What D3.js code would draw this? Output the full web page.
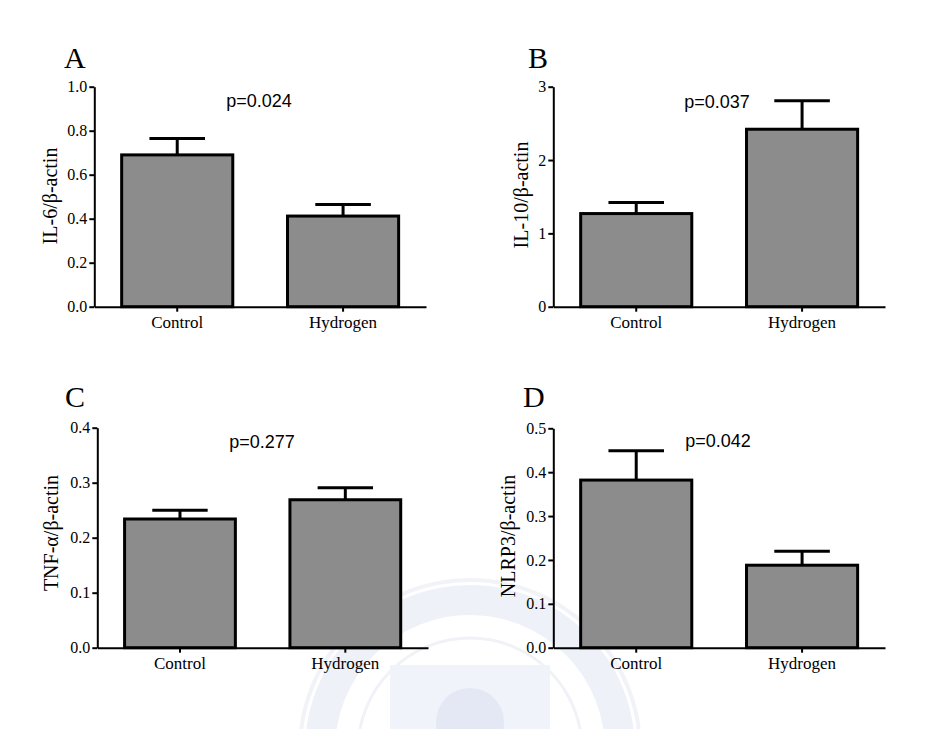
<html>
    <head>
        <title>Cytokine expression</title>
        <script src="https://d3js.org/d3.v7.min.js"></script>
        <style>
        body { margin: 0; background: white; }
        .axis path, .axis line { stroke: black; stroke-width: 2; }
        </style>
    </head>
    <body>
        <svg id="chart" width="941" height="729"></svg>
        <script>
            // data
            const groups = ["Control", "Hydrogen"];

            const il6Mean = [0.690, 0.412];
            const il6Sem = [0.074, 0.053];
            const il10Mean = [1.27, 2.42];
            const il10Sem = [0.15, 0.39];
            const tnfMean = [0.234, 0.269];
            const tnfSem = [0.016, 0.022];
            const nlrpMean = [0.382, 0.188];
            const nlrpSem = [0.067, 0.032];

            const il6Ticks = [0.0, 0.2, 0.4, 0.6, 0.8, 1.0];
            const il10Ticks = [0, 1, 2, 3];
            const tnfTicks = [0.0, 0.1, 0.2, 0.3, 0.4];
            const nlrpTicks = [0.0, 0.1, 0.2, 0.3, 0.4, 0.5];

            const panelLetters = ["A", "B", "C", "D"];
            const yLabels = ["IL-6/\u03b2-actin", "IL-10/\u03b2-actin", "TNF-\u03b1/\u03b2-actin", "NLRP3/\u03b2-actin"];
            const pLabels = ["p=0.024", "p=0.037", "p=0.277", "p=0.042"];

            const serif = "'Liberation Serif', 'Times New Roman', serif";

            const svg = d3.select("#chart");

            // very faint seal watermark behind the bottom panels
            const seal = svg.append("g").attr("transform", "translate(470,750)");
            seal.append("circle").attr("r", 170).attr("fill", "none").attr("stroke", "#f1f3f9").attr("stroke-width", 4);
            seal.append("circle").attr("r", 150).attr("fill", "none").attr("stroke", "#eef1f8").attr("stroke-width", 30);
            seal.append("circle").attr("r", 112).attr("fill", "none").attr("stroke", "#f0f2f8").attr("stroke-width", 3);
            seal.append("path")
                .attr("d", "M-80,-85 L80,-85 L80,-10 Q80,40 0,60 Q-80,40 -80,-10 Z")
                .attr("fill", "#f0f3fa");
            seal.append("circle").attr("cy", -28).attr("r", 34).attr("fill", "#e3e8f4");

            const panels = [
                {mean: il6Mean, sem: il6Sem, ticks: il6Ticks, fmt: ".1f",
                 left: 94.3, top: 86.7, bottom: 306.7, right: 426, labelX: 57, labelY: 196,
                 letterX: 64, letterY: 68, pX: 259, pY: 107},
                {mean: il10Mean, sem: il10Sem, ticks: il10Ticks, fmt: "d",
                 left: 553.3, top: 86.7, bottom: 306.7, right: 885, labelX: 528, labelY: 195,
                 letterX: 528, letterY: 68, pX: 717, pY: 108},
                {mean: tnfMean, sem: tnfSem, ticks: tnfTicks, fmt: ".1f",
                 left: 97.3, top: 427.7, bottom: 647.7, right: 428, labelX: 58, labelY: 533,
                 letterX: 65, letterY: 407, pX: 262, pY: 448},
                {mean: nlrpMean, sem: nlrpSem, ticks: nlrpTicks, fmt: ".1f",
                 left: 553.3, top: 428.3, bottom: 647.7, right: 885, labelX: 515, labelY: 536,
                 letterX: 523, letterY: 407, pX: 718, pY: 447}
            ];

            panels.forEach((p, i) => {
                const g = svg.append("g");

                const x = d3.scaleBand()
                    .domain(groups)
                    .range([p.left, p.right])
                    .paddingInner(0.33)
                    .paddingOuter(0.165);

                const y = d3.scaleLinear()
                    .domain([p.ticks[0], p.ticks[p.ticks.length - 1]])
                    .range([p.bottom, p.top]);

                const rows = groups.map((k, j) => ({group: k, mean: p.mean[j], sem: p.sem[j]}));

                // error bars (upper only)
                const capHalf = x.bandwidth() / 4;
                g.selectAll("line.err").data(rows).join("line")
                    .attr("class", "err")
                    .attr("x1", d => x(d.group) + x.bandwidth() / 2)
                    .attr("x2", d => x(d.group) + x.bandwidth() / 2)
                    .attr("y1", d => y(d.mean))
                    .attr("y2", d => y(d.mean + d.sem))
                    .attr("stroke", "black").attr("stroke-width", 3);
                g.selectAll("line.cap").data(rows).join("line")
                    .attr("class", "cap")
                    .attr("x1", d => x(d.group) + x.bandwidth() / 2 - capHalf)
                    .attr("x2", d => x(d.group) + x.bandwidth() / 2 + capHalf)
                    .attr("y1", d => y(d.mean + d.sem))
                    .attr("y2", d => y(d.mean + d.sem))
                    .attr("stroke", "black").attr("stroke-width", 3);

                // bars
                g.selectAll("rect.bar").data(rows).join("rect")
                    .attr("class", "bar")
                    .attr("x", d => x(d.group))
                    .attr("y", d => y(d.mean))
                    .attr("width", x.bandwidth())
                    .attr("height", d => y(0) - y(d.mean))
                    .attr("fill", "#8c8c8c")
                    .attr("stroke", "black").attr("stroke-width", 3);

                // axes
                const yAxis = g.append("g")
                    .attr("class", "axis")
                    .attr("transform", `translate(${p.left},0)`)
                    .call(d3.axisLeft(y).tickValues(p.ticks).tickFormat(d3.format(p.fmt))
                        .tickSize(5).tickSizeOuter(0).tickPadding(2));
                yAxis.attr("font-family", serif);
                yAxis.selectAll("text").style("font-family", serif).attr("font-size", 16).attr("fill", "black");

                const xAxis = g.append("g")
                    .attr("class", "axis")
                    .attr("transform", `translate(0,${p.bottom})`)
                    .call(d3.axisBottom(x).tickSize(5).tickSizeOuter(0).tickPadding(4));
                xAxis.attr("font-family", serif);
                xAxis.selectAll("text").style("font-family", serif).attr("font-size", 17).attr("fill", "black");

                // y label
                g.append("text")
                    .attr("transform", `translate(${p.labelX},${p.labelY}) rotate(-90)`)
                    .attr("text-anchor", "middle")
                    .style("font-family", serif)
                    .attr("font-size", 20)
                    .text(yLabels[i]);

                // panel letter
                g.append("text")
                    .attr("x", p.letterX).attr("y", p.letterY)
                    .style("font-family", serif)
                    .attr("font-size", 30)
                    .text(panelLetters[i]);

                // p value
                g.append("text")
                    .attr("x", p.pX).attr("y", p.pY)
                    .attr("text-anchor", "middle")
                    .style("font-family", "'Liberation Sans', Arial, sans-serif")
                    .attr("font-size", 18)
                    .text(pLabels[i]);
            });
        </script>
    </body>
</html>
